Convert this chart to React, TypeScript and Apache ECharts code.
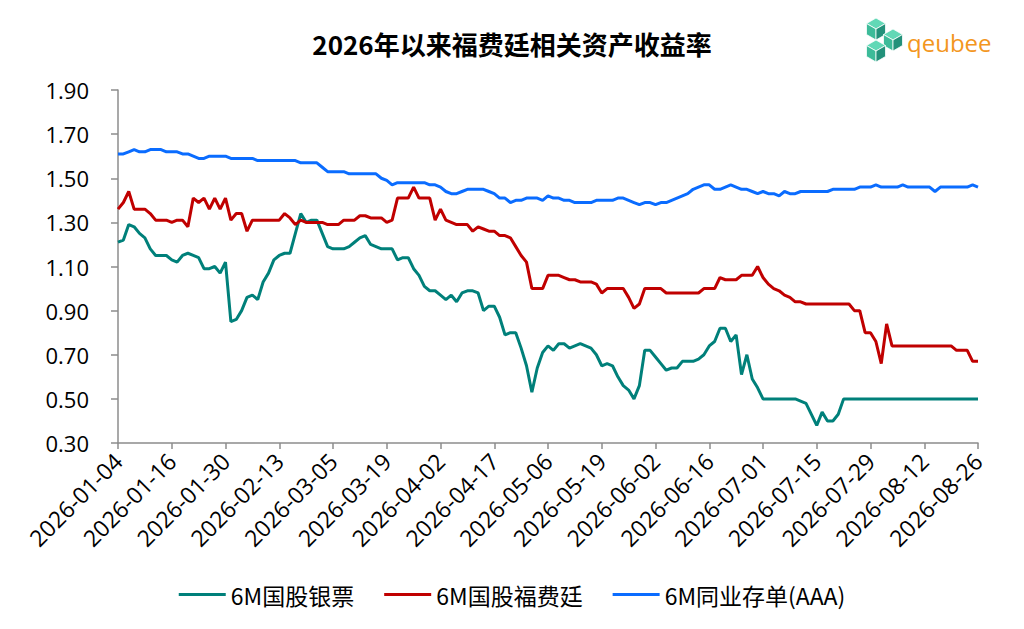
import React, { useEffect, useRef } from 'react';
import * as echarts from 'echarts';

// trading days, month by month
const monthDays: [string, string[]][] = [
  ['01', ['04', '05', '06', '07', '08', '09', '12', '13', '14', '15', '16', '19', '20', '21', '22', '23', '26', '27', '28', '29', '30']],
  ['02', ['02', '03', '04', '05', '06', '09', '10', '11', '12', '13', '14', '24', '25', '26', '27', '28']],
  ['03', ['02', '03', '04', '05', '06', '09', '10', '11', '12', '13', '16', '17', '18', '19', '20', '23', '24', '25', '26', '27', '30', '31']],
  ['04', ['01', '02', '03', '07', '08', '09', '10', '13', '14', '15', '16', '17', '20', '21', '22', '23', '24', '27', '28', '29', '30']],
  ['05', ['06', '07', '08', '09', '11', '12', '13', '14', '15', '18', '19', '20', '21', '22', '25', '26', '27', '28', '29']],
  ['06', ['01', '02', '03', '04', '05', '08', '09', '10', '11', '12', '15', '16', '17', '18', '22', '23', '24', '25', '26', '29', '30']],
  ['07', ['01', '02', '03', '06', '07', '08', '09', '10', '13', '14', '15', '16', '17', '20', '21', '22', '23', '24', '27', '28', '29', '30', '31']],
  ['08', ['03', '04', '05', '06', '07', '10', '11', '12', '13', '14', '17', '18', '19', '20', '21', '24', '25', '26']],
];
const dates: string[] = monthDays.flatMap(([m, days]) => days.map((d) => `2026-${m}-${d}`));

// 6M国股银票
const billRate = [
  1.21, 1.22, 1.29, 1.28, 1.25, 1.23, 1.18, 1.15, 1.15, 1.15,
  1.13, 1.12, 1.15, 1.16, 1.15, 1.14, 1.09, 1.09, 1.10, 1.07,
  1.12, 0.85, 0.86, 0.90, 0.96, 0.97, 0.95, 1.03, 1.07, 1.13,
  1.15, 1.16, 1.16, 1.25, 1.34, 1.30, 1.31, 1.31, 1.25, 1.19,
  1.18, 1.18, 1.18, 1.19, 1.21, 1.23, 1.24, 1.20, 1.19, 1.18,
  1.18, 1.18, 1.13, 1.14, 1.14, 1.09, 1.06, 1.01, 0.99, 0.99,
  0.97, 0.95, 0.97, 0.94, 0.98, 0.99, 0.99, 0.98, 0.90, 0.92,
  0.92, 0.87, 0.79, 0.80, 0.80, 0.73, 0.65, 0.53, 0.64, 0.71,
  0.74, 0.72, 0.75, 0.75, 0.73, 0.74, 0.75, 0.74, 0.73, 0.70,
  0.65, 0.66, 0.65, 0.60, 0.56, 0.54, 0.50, 0.56, 0.72, 0.72,
  0.69, 0.66, 0.63, 0.64, 0.64, 0.67, 0.67, 0.67, 0.68, 0.70,
  0.74, 0.76, 0.82, 0.82, 0.76, 0.79, 0.61, 0.70, 0.59, 0.55,
  0.50, 0.50, 0.50, 0.50, 0.50, 0.50, 0.50, 0.49, 0.48, 0.43,
  0.38, 0.44, 0.40, 0.40, 0.43, 0.50, 0.50, 0.50, 0.50, 0.50,
  0.50, 0.50, 0.50, 0.50, 0.50, 0.50, 0.50, 0.50, 0.50, 0.50,
  0.50, 0.50, 0.50, 0.50, 0.50, 0.50, 0.50, 0.50, 0.50, 0.50, 0.50,
];

// 6M国股福费廷
const forfaitRate = [
  1.36, 1.39, 1.44, 1.36, 1.36, 1.36, 1.34, 1.31, 1.31, 1.31,
  1.30, 1.31, 1.31, 1.28, 1.41, 1.39, 1.41, 1.36, 1.41, 1.36,
  1.41, 1.31, 1.34, 1.34, 1.26, 1.31, 1.31, 1.31, 1.31, 1.31,
  1.31, 1.34, 1.32, 1.29, 1.31, 1.30, 1.30, 1.30, 1.30, 1.29,
  1.29, 1.29, 1.31, 1.31, 1.31, 1.33, 1.33, 1.32, 1.32, 1.32,
  1.30, 1.31, 1.41, 1.41, 1.41, 1.46, 1.41, 1.41, 1.41, 1.31,
  1.36, 1.31, 1.30, 1.29, 1.29, 1.29, 1.26, 1.28, 1.27, 1.26,
  1.26, 1.24, 1.24, 1.23, 1.19, 1.15, 1.12, 1.00, 1.00, 1.00,
  1.06, 1.06, 1.06, 1.05, 1.04, 1.04, 1.03, 1.03, 1.03, 1.02,
  0.98, 1.00, 1.00, 1.00, 1.00, 0.96, 0.91, 0.93, 1.00, 1.00,
  1.00, 1.00, 0.98, 0.98, 0.98, 0.98, 0.98, 0.98, 0.98, 1.00,
  1.00, 1.00, 1.05, 1.04, 1.04, 1.04, 1.06, 1.06, 1.06, 1.10,
  1.05, 1.02, 1.00, 0.99, 0.97, 0.96, 0.94, 0.94, 0.93, 0.93,
  0.93, 0.93, 0.93, 0.93, 0.93, 0.93, 0.93, 0.90, 0.90, 0.80,
  0.80, 0.76, 0.66, 0.84, 0.74, 0.74, 0.74, 0.74, 0.74, 0.74,
  0.74, 0.74, 0.74, 0.74, 0.74, 0.74, 0.72, 0.72, 0.72, 0.67, 0.67,
];

// 6M同业存单(AAA)
const cdRate = [
  1.61, 1.61, 1.62, 1.63, 1.62, 1.62, 1.63, 1.63, 1.63, 1.62,
  1.62, 1.62, 1.61, 1.61, 1.60, 1.59, 1.59, 1.60, 1.60, 1.60,
  1.60, 1.59, 1.59, 1.59, 1.59, 1.59, 1.58, 1.58, 1.58, 1.58,
  1.58, 1.58, 1.58, 1.58, 1.57, 1.57, 1.57, 1.57, 1.55, 1.53,
  1.53, 1.53, 1.53, 1.52, 1.52, 1.52, 1.52, 1.52, 1.52, 1.50,
  1.49, 1.47, 1.48, 1.48, 1.48, 1.48, 1.48, 1.48, 1.47, 1.47,
  1.46, 1.44, 1.43, 1.43, 1.44, 1.45, 1.45, 1.45, 1.45, 1.44,
  1.43, 1.41, 1.41, 1.39, 1.40, 1.40, 1.41, 1.41, 1.41, 1.40,
  1.42, 1.41, 1.41, 1.40, 1.40, 1.39, 1.39, 1.39, 1.39, 1.40,
  1.40, 1.40, 1.40, 1.41, 1.41, 1.40, 1.39, 1.38, 1.39, 1.39,
  1.38, 1.39, 1.39, 1.40, 1.41, 1.42, 1.43, 1.45, 1.46, 1.47,
  1.47, 1.45, 1.45, 1.46, 1.47, 1.46, 1.45, 1.45, 1.44, 1.43,
  1.44, 1.43, 1.43, 1.42, 1.44, 1.43, 1.43, 1.44, 1.44, 1.44,
  1.44, 1.44, 1.44, 1.45, 1.45, 1.45, 1.45, 1.45, 1.46, 1.46,
  1.46, 1.47, 1.46, 1.46, 1.46, 1.46, 1.47, 1.46, 1.46, 1.46,
  1.46, 1.46, 1.44, 1.46, 1.46, 1.46, 1.46, 1.46, 1.46, 1.47, 1.46,
];

const seriesNames = ['6M国股银票', '6M国股福费廷', '6M同业存单(AAA)'];
const colors = ['#00807a', '#c00000', '#0a6cff'];

// logo cubes (decoration)
const cubes = [
  [876, 29],
  [893, 40],
  [876, 51],
];

function cubeFaces(cx: number, cy: number, r: number) {
  const w = r * 0.866;
  return [
    { pts: [[cx, cy - r], [cx + w, cy - r / 2], [cx, cy], [cx - w, cy - r / 2]], fill: '#62d8b6' },
    { pts: [[cx - w, cy - r / 2], [cx, cy], [cx, cy + r], [cx - w, cy + r / 2]], fill: '#3dbb99' },
    { pts: [[cx, cy], [cx + w, cy - r / 2], [cx + w, cy + r / 2], [cx, cy + r]], fill: '#23917a' },
  ];
}

export default function App() {
  const chartRef = useRef<HTMLDivElement>(null);

  useEffect(() => {
    if (!chartRef.current) return;
    const chart = echarts.init(chartRef.current, null, { renderer: 'svg' });

    const logo: any[] = [];
    cubes.forEach(([cx, cy]) => {
      cubeFaces(cx, cy, 11).forEach((f) => {
        logo.push({
          type: 'polygon',
          shape: { points: f.pts },
          style: { fill: f.fill, stroke: '#ffffff', lineWidth: 0.8 },
        });
      });
    });
    logo.push({
      type: 'text',
      x: 907,
      y: 42,
      style: {
        text: 'qeubee',
        fontSize: 24,
        fontFamily: 'Open Sans',
        fill: '#f39620',
        textVerticalAlign: 'middle',
      },
    });

    const option = {
      animation: false,
      title: {
        text: '2026年以来福费廷相关资产收益率',
        left: 'center',
        top: 25,
        textStyle: {
          fontSize: 26,
          fontWeight: 'bold',
          color: '#000',
          fontFamily: 'Noto Sans CJK SC',
        },
      },
      legend: {
        data: seriesNames,
        left: 'center',
        top: 578,
        icon: 'rect',
        itemWidth: 47,
        itemHeight: 3,
        itemGap: 30,
        textStyle: { fontSize: 23, color: '#000', fontFamily: 'Noto Sans CJK SC' },
      },
      grid: { left: 118, right: 46, top: 90, bottom: 186 },
      xAxis: {
        type: 'category',
        data: dates,
        boundaryGap: false,
        axisLine: { lineStyle: { color: '#8c8c8c', width: 1.5 } },
        axisTick: { show: true, interval: 9, length: 6, lineStyle: { color: '#8c8c8c', width: 1.5 } },
        axisLabel: {
          interval: 9,
          rotate: 45,
          fontSize: 23,
          color: '#000',
          fontFamily: 'Open Sans',
          margin: 14,
        },
      },
      yAxis: {
        type: 'value',
        min: 0.3,
        max: 1.9,
        interval: 0.2,
        splitLine: { show: false },
        axisLine: { show: true, lineStyle: { color: '#8c8c8c', width: 1.5 } },
        axisTick: { show: true, length: 7, lineStyle: { color: '#8c8c8c', width: 1.5 } },
        axisLabel: {
          formatter: (v: number) => v.toFixed(2),
          fontSize: 22,
          color: '#000',
          fontFamily: 'Open Sans',
          margin: 29,
        },
      },
      series: [billRate, forfaitRate, cdRate].map((d, i) => ({
        name: seriesNames[i],
        type: 'line',
        data: d,
        symbol: 'none',
        color: colors[i],
        lineStyle: { width: 3, color: colors[i] },
      })),
      graphic: { elements: logo },
    };

    chart.setOption(option);
    return () => chart.dispose();
  }, []);

  return (
    <div
      ref={chartRef}
      style={{ position: 'fixed', left: 0, top: 0, width: '1024px', height: '629px', background: '#fff' }}
    />
  );
}
